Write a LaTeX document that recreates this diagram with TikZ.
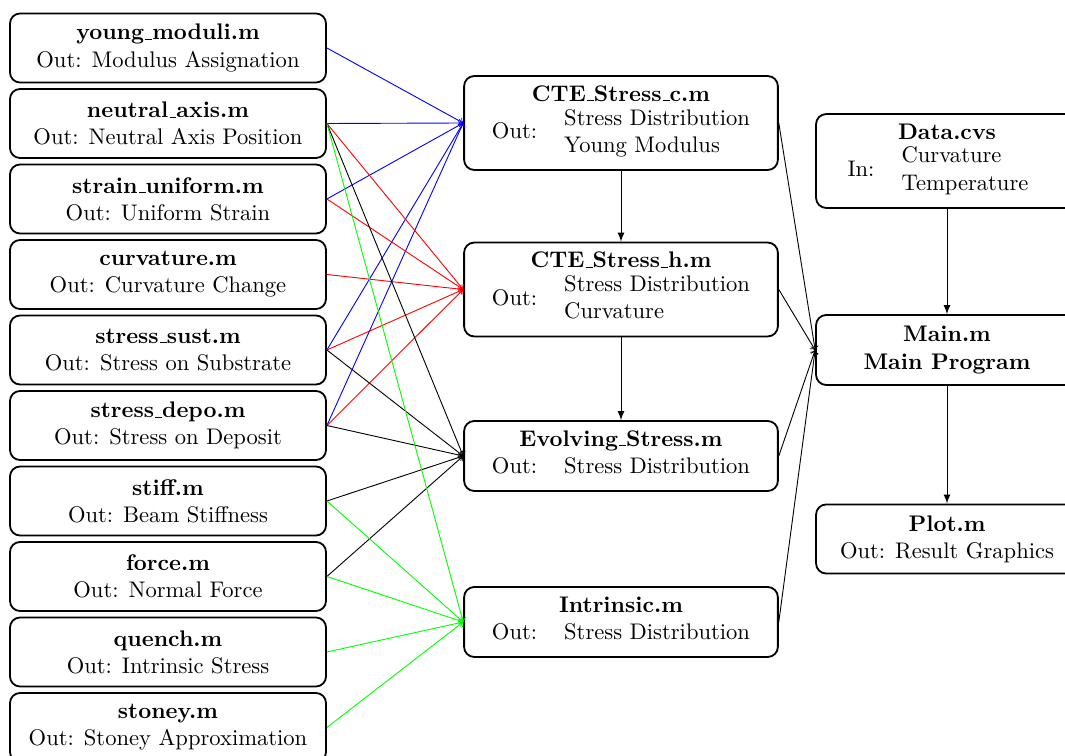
\documentclass[tikz,border=0pt]{standalone}
\usetikzlibrary{arrows}
\newcommand{\undsc}{\leavevmode\kern.06em\vbox{\hrule width.3em}}

\begin{document}
\begin{tikzpicture}[x=0.443pt, y=-0.443pt,
        mfile/.style={draw=black, thick, rounded corners=4.5pt, align=center, inner sep=3pt},
        subbox/.style={mfile, minimum width=140pt, minimum height=30.6pt},
        stressbox/.style={mfile, minimum width=139pt, minimum height=31pt},
        mainbox/.style={mfile, minimum width=116pt, minimum height=30.6pt},
        feed/.style={->, thin},
        flow/.style={-latex, thin}]
            \useasboundingbox (0,0) rectangle (1065,756);
            \clip (0,0) rectangle (1065,756);

            % Subroutines
            \node[subbox] (youngmod) at (168,48) {\textbf{young\undsc moduli.m}\\Out: Modulus Assignation};
            \node[subbox] (neutral) at (168,123.5) {\textbf{neutral\undsc axis.m}\\Out: Neutral Axis Position};
            \node[subbox] (strain) at (168,199) {\textbf{strain\undsc uniform.m}\\Out: Uniform Strain};
            \node[subbox] (curv) at (168,274.5) {\textbf{curvature.m}\\Out: Curvature Change};
            \node[subbox] (sust) at (168,350) {\textbf{stress\undsc sust.m}\\Out: Stress on Substrate};
            \node[subbox] (depo) at (168,425.5) {\textbf{stress\undsc depo.m}\\Out: Stress on Deposit};
            \node[subbox] (stiff) at (168,501) {\textbf{stiff.m}\\Out: Beam Stiffness};
            \node[subbox] (force) at (168,576.5) {\textbf{force.m}\\Out: Normal Force};
            \node[subbox] (quench) at (168,652) {\textbf{quench.m}\\Out: Intrinsic Stress};
            \node[subbox] (stoney) at (168,727.5) {\textbf{stoney.m}\\Out: Stoney Approximation};

            % Stress modules
            \node[stressbox, minimum height=41.6pt] (ctec) at (621,123) {\textbf{CTE\undsc Stress\undsc c.m}\\[1pt]
                \begin{tabular}{ll}Out: & \begin{tabular}{@{}l@{}}Stress Distribution\\Young Modulus\end{tabular}\end{tabular}};
            \node[stressbox, minimum height=41.6pt] (cteh) at (621,289.5) {\textbf{CTE\undsc Stress\undsc h.m}\\[1pt]
                \begin{tabular}{ll}Out: & \begin{tabular}{@{}l@{}}Stress Distribution\\Curvature\end{tabular}\end{tabular}};
            \node[stressbox] (evolv) at (621,456) {\textbf{Evolving\undsc Stress.m}\\
                \begin{tabular}{ll}Out: & Stress Distribution\end{tabular}};
            \node[stressbox] (intr) at (621,622) {\textbf{Intrinsic.m}\\
                \begin{tabular}{ll}Out: & Stress Distribution\end{tabular}};

            % Main program, data and plot
            \node[mainbox, minimum height=41.6pt] (data) at (947,161) {\textbf{Data.cvs}\\[1pt]
                \begin{tabular}{ll}In: & \begin{tabular}{@{}l@{}}Curvature\\Temperature\end{tabular}\end{tabular}\hspace*{8pt}};
            \node[mainbox, minimum height=31pt] (mainprog) at (947,350) {\textbf{Main.m}\\\textbf{Main Program}};
            \node[mainbox] (plot) at (947,539) {\textbf{Plot.m}\\Out: Result Graphics};

            % Inputs of CTE_Stress_c.m
            \draw[feed, draw=blue] (youngmod.east) -- (ctec.west);
            \draw[feed, draw=blue] (neutral.east) -- (ctec.west);
            \draw[feed, draw=blue] (strain.east) -- (ctec.west);
            \draw[feed, draw=blue] (sust.east) -- (ctec.west);
            \draw[feed, draw=blue] (depo.east) -- (ctec.west);

            % Inputs of CTE_Stress_h.m
            \draw[feed, draw=red] (neutral.east) -- (cteh.west);
            \draw[feed, draw=red] (strain.east) -- (cteh.west);
            \draw[feed, draw=red] (curv.east) -- (cteh.west);
            \draw[feed, draw=red] (sust.east) -- (cteh.west);
            \draw[feed, draw=red] (depo.east) -- (cteh.west);

            % Inputs of Evolving_Stress.m
            \draw[feed, draw=black] (neutral.east) -- (evolv.west);
            \draw[feed, draw=black] (sust.east) -- (evolv.west);
            \draw[feed, draw=black] (depo.east) -- (evolv.west);
            \draw[feed, draw=black] (stiff.east) -- (evolv.west);
            \draw[feed, draw=black] (force.east) -- (evolv.west);

            % Inputs of Intrinsic.m
            \draw[feed, draw=green] (neutral.east) -- (intr.west);
            \draw[feed, draw=green] (stiff.east) -- (intr.west);
            \draw[feed, draw=green] (force.east) -- (intr.west);
            \draw[feed, draw=green] (quench.east) -- (intr.west);
            \draw[feed, draw=green] (stoney.east) -- (intr.west);

            % Stress modules into main program
            \draw[feed] (ctec.east) -- (mainprog.west);
            \draw[feed] (cteh.east) -- (mainprog.west);
            \draw[feed] (evolv.east) -- (mainprog.west);
            \draw[feed] (intr.east) -- (mainprog.west);

            % Vertical flow
            \draw[flow] (ctec) -- (cteh);
            \draw[flow] (cteh) -- (evolv);
            \draw[flow] (data) -- (mainprog);
            \draw[flow] (mainprog) -- (plot);
        \end{tikzpicture}
\end{document}
